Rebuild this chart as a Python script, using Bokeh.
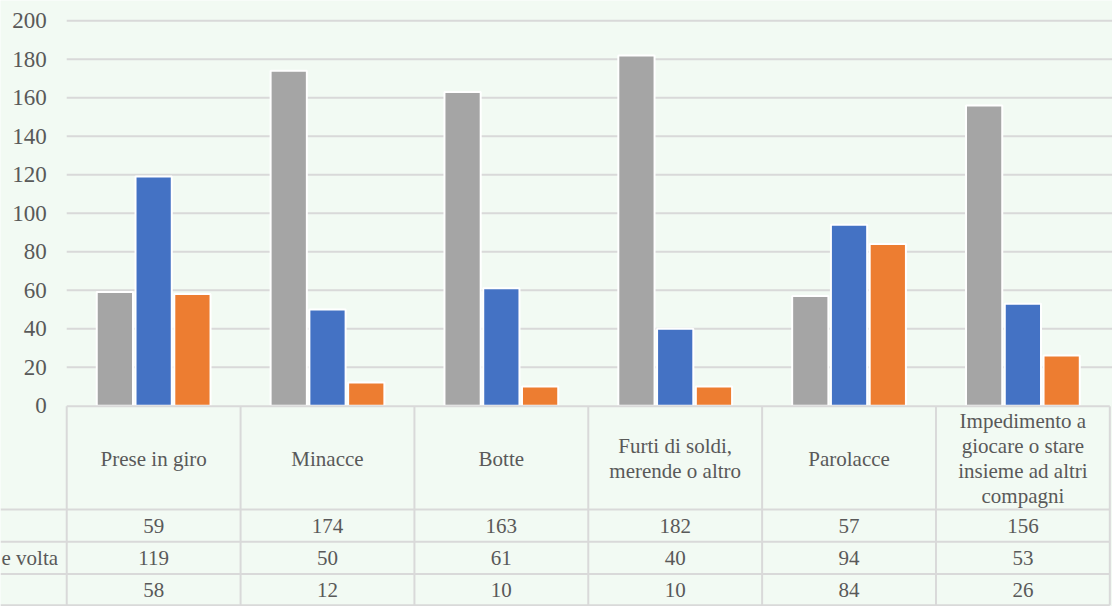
from bokeh.plotting import figure
from bokeh.models import Range1d
from bokeh.core.properties import value
from bokeh.embed import file_html
from bokeh.resources import INLINE

# ---------------- data ----------------
categories = [
    "Prese in giro",
    "Minacce",
    "Botte",
    "Furti di soldi,\nmerende o altro",
    "Parolacce",
    "Impedimento a\ngiocare o stare\ninsieme ad altri\ncompagni",
]
row_labels = ["", "e volta", ""]   # only the visible (cut-off) part of the table's row names
mai = [59, 174, 163, 182, 57, 156]
qualche_volta = [119, 50, 61, 40, 94, 53]
spesso = [58, 12, 10, 10, 84, 26]
y_ticks = [0, 20, 40, 60, 80, 100, 120, 140, 160, 180, 200]

# ---------------- style ----------------
BG = "#F2FAF3"
TXT = "#595959"
GRID = "#D9D9D9"
COLORS = ["#A5A5A5", "#4472C4", "#ED7D31"]
FONT = value("Liberation Serif")

# ---------------- geometry (reference-pixel mapping) ----------------
W, H = 1112, 606
REF_W, REF_H = 1120, 614
CAT_PX = 175.1          # pixel width of one category
X0_PX = 66.7            # x of category 0 left edge
Y0_PX = 410.5           # y of value 0
V_PX = 1.95             # pixels per value unit

def ux(px):
    return (px - X0_PX) / CAT_PX

def vy(py):
    return (Y0_PX - py) / V_PX

XL, XR = ux(0), ux(REF_W)
YT, YB = vy(0), vy(REF_H)

p = figure(width=W, height=H, x_range=Range1d(XL, XR), y_range=Range1d(YB, YT),
           output_backend="svg", toolbar_location=None, min_border=0)
p.axis.visible = False
p.grid.visible = False
p.outline_line_color = None
p.background_fill_color = BG
p.border_fill_color = BG

n = len(categories)

# gridlines
p.segment(x0=[0] * (len(y_ticks) - 1), x1=[XR] * (len(y_ticks) - 1),
          y0=y_ticks[1:], y1=y_ticks[1:], line_color=GRID, line_width=2)

# y tick labels
p.text(x=[ux(46.5)] * len(y_ticks), y=y_ticks, text=[str(t) for t in y_ticks],
       text_align="right", text_baseline="middle", text_font=FONT,
       text_font_size="23px", text_color=TXT)

# bars
offsets = [-0.223, 0.0, 0.223]
bw = 36.5 / CAT_PX
for vals, off, col in zip([mai, qualche_volta, spesso], offsets, COLORS):
    p.vbar(x=[i + 0.5 + off for i in range(n)], top=vals, bottom=0, width=bw,
           fill_color=col, line_color="white", line_width=2)

# ---------------- data table ----------------
row_lines_px = [515.7, 548.3, 581.0, 612.7]
top_px = 411.2
xs, ys = [], []
xs.append([0, n]); ys.append([vy(top_px), vy(top_px)])
for r in row_lines_px:
    xs.append([XL, n]); ys.append([vy(r), vy(r)])
for i in range(n + 1):
    xs.append([i, i]); ys.append([vy(top_px), vy(row_lines_px[-1])])
p.multi_line(xs=xs, ys=ys, line_color=GRID, line_width=2)

# header labels
p.text(x=[i + 0.5 for i in range(n)], y=[vy((top_px + row_lines_px[0]) / 2 + 1)] * n,
       text=categories, text_align="center", text_baseline="middle",
       text_font=FONT, text_font_size="21px", text_color=TXT, text_line_height=1.04)

# value rows
row_tops = row_lines_px[:3]
row_bots = row_lines_px[1:]
for vals, t, b in zip([mai, qualche_volta, spesso], row_tops, row_bots):
    p.text(x=[i + 0.5 for i in range(n)], y=[vy((t + b) / 2)] * n,
           text=[str(v) for v in vals], text_align="center", text_baseline="middle",
           text_font=FONT, text_font_size="21px", text_color=TXT)

# row labels (only the visible part, right edge as in the original)
lab_y = [vy((t + b) / 2) for t, b in zip(row_tops, row_bots)]
keep = [i for i, s in enumerate(row_labels) if s]
p.text(x=[ux(58)] * len(keep), y=[lab_y[i] for i in keep],
       text=[row_labels[i] for i in keep], text_align="right", text_baseline="middle",
       text_font=FONT, text_font_size="21px", text_color=TXT)

open("out.html", "w").write(file_html(p, INLINE))
